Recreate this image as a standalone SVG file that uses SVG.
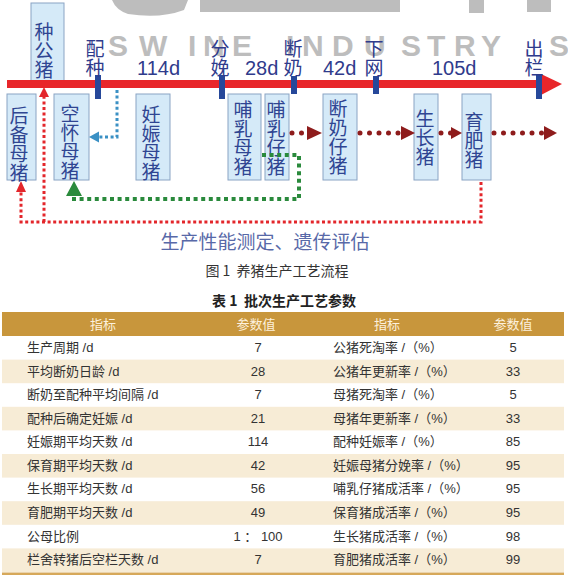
<svg xmlns="http://www.w3.org/2000/svg" width="568" height="576" viewBox="0 0 568 576">
<defs>
<style>
.cjk{font-family:"Noto Sans CJK SC","Noto Sans",sans-serif}
.box{fill:#d5eaf8;stroke:#8aa4c4;stroke-width:1}
.bt{font-family:"Noto Sans CJK SC",sans-serif;font-size:19px;fill:#2f4592;writing-mode:vertical-rl}
.vl{font-family:"Noto Sans CJK SC",sans-serif;font-size:19px;fill:#2f3b8c;writing-mode:vertical-rl}
.lab{font-family:"Liberation Sans","Noto Sans CJK SC",sans-serif;font-size:20px;fill:#2f3b8c}
.mk{fill:#26489a}
.wm{font-family:"Liberation Sans",sans-serif;font-size:30px;font-weight:bold;fill:#bdbdbd}
.dr{fill:none;stroke:#8e1c1c;stroke-width:5;stroke-linecap:round;stroke-dasharray:0 9.5}
.drh{fill:#8e1c1c}
.rd{fill:none;stroke:#e3262b;stroke-width:3;stroke-dasharray:3 2.6}
.gd{fill:none;stroke:#2a8a3c;stroke-width:4;stroke-dasharray:4 3.6}
.bd{fill:none;stroke:#3a90c4;stroke-width:3;stroke-dasharray:3 2.6}
.th{font-family:"Liberation Sans","Noto Sans CJK SC",sans-serif;font-size:13px;fill:#fdf1dc;text-anchor:middle}
.td{font-family:"Liberation Sans","Noto Sans CJK SC",sans-serif;font-size:13px;fill:#333}
.tc{text-anchor:middle}
.band{fill:#f7ecd6}
</style>
</defs>
<rect width="568" height="576" fill="#ffffff"/>

<!-- watermark -->
<g id="watermark">
<path d="M112,0 H188 L184,10 Q160,19 128,14 Q116,10 112,0 Z" fill="#bdbdbd"/>
<path d="M200,0 H400 V12 H200 Z" fill="#bdbdbd"/>
<path d="M469,0 H484 V13 H469 Z" fill="#bdbdbd"/>
<path d="M527,0 H551 V12 H527 Z" fill="#bdbdbd"/>
<text class="wm" x="108 139 188 203 232 286 302 332 364 401 427 454 481 549" y="56">SWINEINDUSTRYS</text>
</g>

<!-- nodes -->
<g id="n-zhonggongzhu"><rect class="box" x="31" y="3" width="33" height="78"/><text class="bt" x="44" y="22">种公猪</text></g>
<g id="n-houbeimuzhu"><rect class="box" x="7" y="94" width="29" height="86"/><text class="bt" x="19" y="106">后备母猪</text></g>
<g id="n-konghuaimuzhu"><rect class="box" x="54" y="94" width="35" height="86"/><text class="bt" x="70" y="104">空怀母猪</text></g>
<g id="n-renshenmuzhu"><rect class="box" x="136" y="94" width="34" height="86"/><text class="bt" x="151" y="105">妊娠母猪</text></g>
<g id="n-buru-muzhu"><rect class="box" x="228" y="94" width="33" height="86"/><text class="bt" x="243" y="100">哺乳母猪</text></g>
<g id="n-buru-zizhu"><rect class="box" x="265" y="94" width="24" height="86"/><text class="bt" x="276" y="100">哺乳仔猪</text></g>
<g id="n-duannai-zizhu"><rect class="box" x="323" y="94" width="34" height="86"/><text class="bt" x="338" y="99">断奶仔猪</text></g>
<g id="n-shengzhangzhu"><rect class="box" x="414" y="94" width="24" height="86"/><text class="bt" x="425" y="109">生长猪</text></g>
<g id="n-yufeizhu"><rect class="box" x="462" y="94" width="29" height="86"/><text class="bt" x="474" y="112">育肥猪</text></g>

<!-- timeline -->
<g id="timeline">
<rect x="7" y="80" width="537" height="8" fill="#e8262a"/>
<polygon points="541,74 562,84 541,95" fill="#e8262a"/>
<rect class="mk" x="95" y="75" width="6" height="24"/>
<rect class="mk" x="219" y="75" width="6" height="24"/>
<rect class="mk" x="291" y="76" width="6" height="18"/>
<rect class="mk" x="373" y="76" width="6" height="18"/>
<rect class="mk" x="536" y="75" width="6" height="24"/>
<text class="vl" x="95" y="39">配种</text>
<text class="lab" x="137" y="75">114d</text>
<text class="vl" x="220" y="39">分娩</text>
<text class="lab" x="245" y="75">28d</text>
<text class="vl" x="293" y="39">断奶</text>
<text class="lab" x="323" y="75">42d</text>
<text class="vl" x="374" y="39">下网</text>
<text class="lab" x="432" y="75">105d</text>
<text class="vl" x="534" y="39">出栏</text>
</g>

<!-- connectors -->
<g id="connectors">
<path class="bd" d="M117,90 V137 H99"/>
<polygon points="89,137 99,131.5 99,142.5" fill="#3a90c4"/>
<path class="rd" d="M481,182 V222 H21 V192"/>
<polygon points="21,181 16,192 26,192" fill="#e3262b"/>
<path class="rd" d="M44,222 V96"/>
<polygon points="44,87 39,97 49,97" fill="#e3262b"/>
<path class="gd" d="M262,155 H299 V199 H74 V195"/>
<polygon points="74,181 66,196 82,196" fill="#2a8a3c"/>
<path class="dr" d="M292,133 H306"/>
<polygon class="drh" points="307,126 322,133 307,140"/>
<path class="dr" d="M360,133 H400"/>
<polygon class="drh" points="401,126 415,133 401,140"/>
<path class="dr" d="M441,133 H451"/>
<polygon class="drh" points="451,127 462,133 451,139"/>
<path class="dr" d="M494,133 H543"/>
<polygon class="drh" points="544,126 557,133 544,140"/>
</g>

<!-- captions -->
<text class="cjk" x="265" y="249" font-size="19" fill="#5869a8" text-anchor="middle">生产性能测定、遗传评估</text>
<text class="cjk" x="277" y="276" font-size="14" fill="#333" text-anchor="middle" xml:space="preserve">图 1  养猪生产工艺流程</text>
<text class="cjk" x="284" y="306" font-size="14" font-weight="bold" fill="#222" text-anchor="middle" xml:space="preserve">表 1  批次生产工艺参数</text>

<!-- table -->
<g id="table">
<rect x="2" y="312" width="562" height="24" fill="#c8963c"/>
<text class="th" x="103" y="329">指标</text>
<text class="th" x="256" y="329">参数值</text>
<text class="th" x="387" y="329">指标</text>
<text class="th" x="513" y="329">参数值</text>
<rect class="band" x="2" y="359.6" width="562" height="23.6"/>
<rect class="band" x="2" y="406.8" width="562" height="23.6"/>
<rect class="band" x="2" y="454" width="562" height="23.6"/>
<rect class="band" x="2" y="501.2" width="562" height="23.6"/>
<rect class="band" x="2" y="548.4" width="562" height="23.6"/>
<rect x="2" y="572.5" width="562" height="2.5" fill="#d6a85a"/>
<g class="td">
<text x="27" y="352">生产周期 /d</text>
<text x="27" y="376">平均断奶日龄 /d</text>
<text x="27" y="399">断奶至配种平均间隔 /d</text>
<text x="27" y="423">配种后确定妊娠 /d</text>
<text x="27" y="446">妊娠期平均天数 /d</text>
<text x="27" y="470">保育期平均天数 /d</text>
<text x="27" y="493">生长期平均天数 /d</text>
<text x="27" y="517">育肥期平均天数 /d</text>
<text x="27" y="541">公母比例</text>
<text x="27" y="564">栏舍转猪后空栏天数 /d</text>
</g>
<g class="td tc">
<text x="258" y="352">7</text>
<text x="258" y="376">28</text>
<text x="258" y="399">7</text>
<text x="258" y="423">21</text>
<text x="258" y="446">114</text>
<text x="258" y="470">42</text>
<text x="258" y="493">56</text>
<text x="258" y="517">49</text>
<text x="258" y="541">1 ： 100</text>
<text x="258" y="564">7</text>
</g>
<g class="td">
<text x="333" y="352">公猪死淘率 /（%）</text>
<text x="333" y="376">公猪年更新率 /（%）</text>
<text x="333" y="399">母猪死淘率 /（%）</text>
<text x="333" y="423">母猪年更新率 /（%）</text>
<text x="333" y="446">配种妊娠率 /（%）</text>
<text x="333" y="470">妊娠母猪分娩率 /（%）</text>
<text x="333" y="493">哺乳仔猪成活率 /（%）</text>
<text x="333" y="517">保育猪成活率 /（%）</text>
<text x="333" y="541">生长猪成活率 /（%）</text>
<text x="333" y="564">育肥猪成活率 /（%）</text>
</g>
<g class="td tc">
<text x="513" y="352">5</text>
<text x="513" y="376">33</text>
<text x="513" y="399">5</text>
<text x="513" y="423">33</text>
<text x="513" y="446">85</text>
<text x="513" y="470">95</text>
<text x="513" y="493">95</text>
<text x="513" y="517">95</text>
<text x="513" y="541">98</text>
<text x="513" y="564">99</text>
</g>
</g>
</svg>
